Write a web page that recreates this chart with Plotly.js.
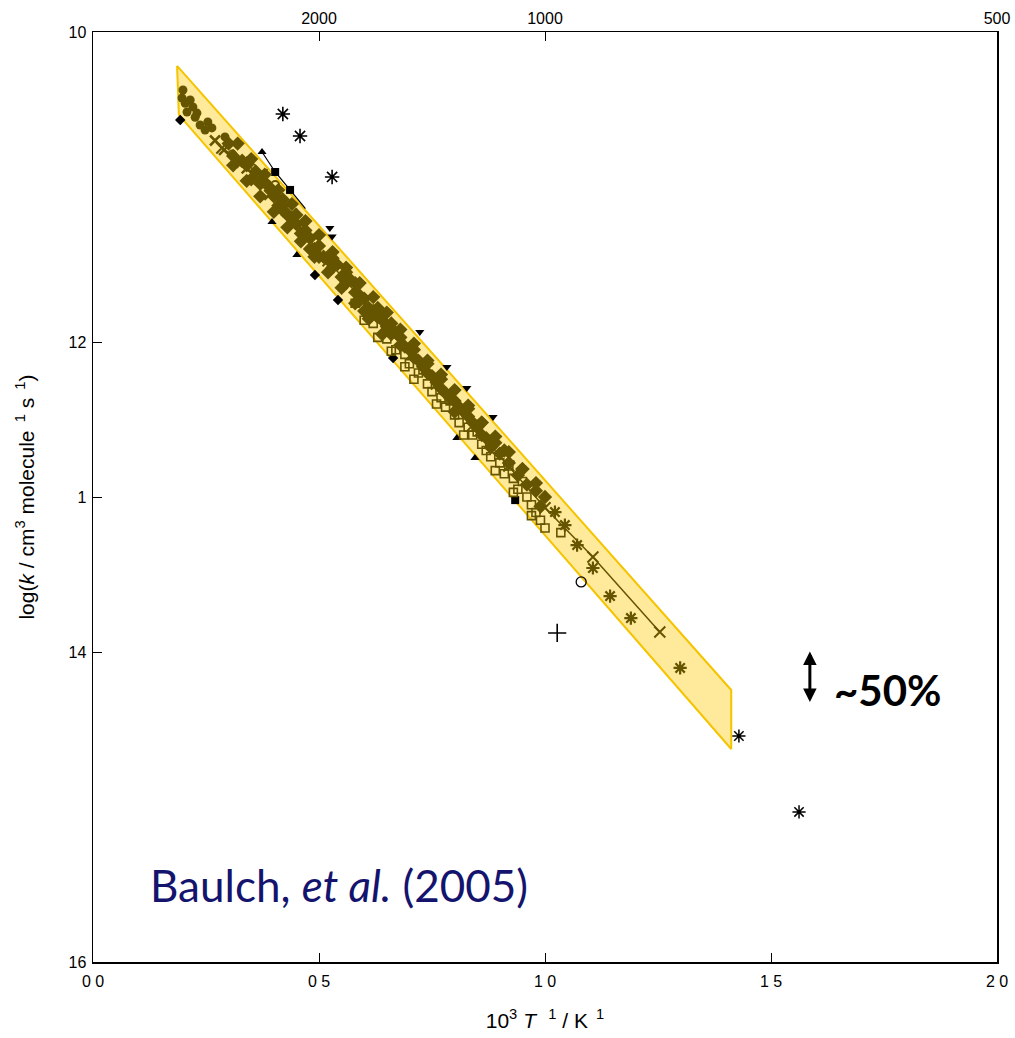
<!DOCTYPE html>
<html><head><meta charset="utf-8">
<script src="https://cdn.plot.ly/plotly-3.0.1.min.js"></script>
<style>body{margin:0;background:#fff}#plot{width:1015px;height:1038px}</style>
</head><body><div id="plot"></div>
<script>
// Uncertainty band (~50%)
const bandX = [0.186, 1.412, 1.412, 0.190, 0.186];
const bandY = [-10.219, -14.245, -14.626, -10.535, -10.219];

// Olive filled circles (high-T shock tube cluster)
const circX = [0.199,0.197,0.215,0.221,0.208,0.230,0.237,0.254,0.248,0.263,0.292,0.204,0.226];
const circY = [-10.374,-10.426,-10.439,-10.484,-10.516,-10.523,-10.600,-10.581,-10.632,-10.619,-10.677,-10.46,-10.55];

// Olive filled diamonds (dense data)
const diaX = [0.30,0.31,0.33,0.34,0.36,0.37,0.38,0.40,0.41,0.42,0.43,0.44,0.45,0.46,0.47,0.48,0.49,0.50,0.51,0.52,0.53,0.54,0.55,0.56,0.57,0.58,0.59,0.60,0.61,0.62,0.63,0.64,0.65,0.66,0.67,0.68,0.69,0.70,0.71,0.72,0.73,0.74,0.75,0.76,0.77,0.78,0.79,0.80,0.81,0.82,0.83,0.84,0.85,0.86,0.87,0.88,0.90,0.92,0.94,0.96,0.98,1.00,
  0.35,0.39,0.42,0.45,0.48,0.50,0.53,0.56,0.58,0.60,0.63,0.66,0.68,0.71,0.74,0.77,0.80,0.83,0.86,0.89,0.91,0.95,0.99,
  0.32,0.35,0.38,0.41,0.44,0.47,0.50,0.53,0.56,0.59,0.62,0.65,0.68,0.71,0.74,0.77,0.80,0.83,0.86,0.89,0.92,0.95,0.98,
  0.31,0.34,0.37,0.40,0.43,0.46,0.49,0.52,0.55,0.58,0.61,0.64];
const diaY = [-10.72,-10.80,-10.83,-10.86,-10.90,-10.98,-10.97,-11.06,-11.12,-11.08,-11.18,-11.20,-11.24,-11.30,-11.28,-11.33,-11.40,-11.38,-11.45,-11.47,-11.52,-11.50,-11.58,-11.62,-11.60,-11.68,-11.70,-11.72,-11.78,-11.80,-11.84,-11.86,-11.90,-11.95,-11.94,-12.02,-12.03,-12.05,-12.10,-12.12,-12.16,-12.20,-12.22,-12.26,-12.30,-12.33,-12.36,-12.38,-12.42,-12.45,-12.48,-12.52,-12.55,-12.60,-12.62,-12.68,-12.72,-12.78,-12.86,-12.92,-12.96,-13.00,
  -10.95,-11.00,-11.15,-11.18,-11.40,-11.45,-11.46,-11.55,-11.62,-11.80,-11.78,-11.88,-11.97,-12.05,-12.14,-12.24,-12.45,-12.43,-12.52,-12.65,-12.70,-12.82,-13.06,
  -10.72,-10.82,-10.92,-11.02,-11.11,-11.22,-11.31,-11.42,-11.52,-11.62,-11.71,-11.81,-11.92,-12.01,-12.12,-12.21,-12.31,-12.41,-12.52,-12.61,-12.71,-12.82,-12.91,
  -10.86,-10.96,-11.06,-11.16,-11.26,-11.35,-11.45,-11.55,-11.65,-11.75,-11.85,-11.95];

// Olive open squares
const sqX = [0.58,0.62,0.65,0.67,0.70,0.72,0.74,0.75,0.77,0.78,0.80,0.81,0.83,0.84,0.86,0.87,0.88,0.90,0.91,0.93,0.94,0.95,0.96,0.97,0.98,0.99,1.00,0.92,0.85,0.79,0.73,0.69,1.035,
  0.60,0.63,0.66,0.69,0.71,0.76,0.82,0.89,0.93,0.97];
const sqY = [-11.75,-11.88,-11.98,-12.05,-12.14,-12.20,-12.27,-12.32,-12.36,-12.42,-12.47,-12.52,-12.55,-12.60,-12.66,-12.70,-12.74,-12.78,-12.85,-12.88,-12.95,-12.90,-13.00,-13.05,-13.10,-13.15,-13.20,-12.80,-12.58,-12.38,-12.18,-12.08,-13.23,
  -11.86,-11.97,-12.06,-12.16,-12.24,-12.40,-12.60,-12.83,-12.97,-13.12];

// Olive crosses (upper trail)
const crX = [0.27,0.29,0.32,0.34,0.37,0.39,0.42,0.44,0.46,0.47];
const crY = [-10.70,-10.76,-10.84,-10.88,-10.95,-11.05,-11.10,-11.17,-11.24,-11.33];

// Olive open circles (upper trail)
const ocX = [0.308,0.352,0.403];
const ocY = [-10.79,-10.877,-10.987];

// Olive line with x markers
const lineX = [0.285,0.330,0.374,0.44,0.52,0.60,0.68,0.76,0.84,0.92,1.00,1.106,1.254];
const lineY = [-10.748,-10.84,-10.92,-11.21,-11.476,-11.741,-12.007,-12.272,-12.538,-12.80,-13.069,-13.387,-13.871];

// Olive asterisks (low-T)
const astX = [1.022,1.044,1.071,1.106,1.144,1.190,1.299];
const astY = [-13.097,-13.181,-13.310,-13.458,-13.639,-13.781,-14.103];

// Black markers
const bDiaX = [0.193,0.491,0.542,0.664];
const bDiaY = [-10.568,-11.568,-11.729,-12.103];
const bTriUpX = [0.374,0.396,0.451,0.805,0.845];
const bTriUpY = [-10.774,-11.226,-11.439,-12.619,-12.748];
const bSqX = [0.403,0.436,0.934];
const bSqY = [-10.903,-11.019,-13.02];
const bTriDnX = [0.524,0.529,0.723,0.783,0.827,0.885];
const bTriDnY = [-11.265,-11.32,-11.935,-12.161,-12.297,-12.484];
const bLineX = [0.374,0.403,0.436,0.47];
const bLineY = [-10.774,-10.903,-11.019,-11.14];
const bAstX = [0.420,0.458,0.529];
const bAstY = [-10.529,-10.671,-10.935];
const bPlusX = [1.027];
const bPlusY = [-13.877];
const bCircX = [1.080];
const bCircY = [-13.548];
const bStarX = [1.429,1.562];
const bStarY = [-14.542,-15.032];

// Axis ticks
const xTickVals = [0,0.5,1.0,1.5,2.0];
const xTickText = ['0 0','0 5','1 0','1 5','2 0'];
const topTickVals = [0.5,1.0,2.0];
const topTickText = ['2000','1000','500'];
const yTickVals = [-10,-12,-13,-14,-16];
const yTickText = ['10','12','1','14','16'];

const olive = '#665500';
const traces = [
  {x:bandX,y:bandY,mode:'lines',fill:'toself',fillcolor:'rgba(255,226,120,0.75)',line:{color:'#F5C400',width:2},hoverinfo:'skip'},
  {x:bLineX,y:bLineY,mode:'lines',line:{color:'#000',width:1.2}},
  {x:bDiaX,y:bDiaY,mode:'markers',marker:{symbol:'diamond',size:8,color:'#000'}},
  {x:bTriUpX,y:bTriUpY,mode:'markers',marker:{symbol:'triangle-up',size:8,color:'#000'}},
  {x:bSqX,y:bSqY,mode:'markers',marker:{symbol:'square',size:8,color:'#000'}},
  {x:bTriDnX,y:bTriDnY,mode:'markers',marker:{symbol:'triangle-down',size:8,color:'#000'}},
  {x:sqX,y:sqY,mode:'markers',marker:{symbol:'square-open',size:8,color:olive,line:{width:1.6,color:olive}}},
  {x:diaX,y:diaY,mode:'markers',marker:{symbol:'diamond',size:11,color:olive}},
  {x:crX,y:crY,mode:'markers',marker:{symbol:'x-thin-open',size:10,color:olive,line:{width:2.5,color:olive}}},
  {x:circX,y:circY,mode:'markers',marker:{symbol:'circle',size:9,color:olive}},
  {x:ocX,y:ocY,mode:'markers',marker:{symbol:'circle-open',size:8,color:olive,line:{width:1.8,color:olive}}},
  {x:lineX,y:lineY,mode:'lines+markers',line:{color:olive,width:1.5},marker:{symbol:'x-thin-open',size:11,color:olive,line:{width:2,color:olive}}},
  {x:astX,y:astY,mode:'markers',marker:{symbol:'asterisk-open',size:11,color:olive,line:{width:2.2,color:olive}}},
  {x:bAstX,y:bAstY,mode:'markers',marker:{symbol:'asterisk-open',size:12,color:'#000',line:{width:1.6,color:'#000'}}},
  {x:bPlusX,y:bPlusY,mode:'markers',marker:{symbol:'cross-thin-open',size:13,color:'#000',line:{width:1.6,color:'#000'}}},
  {x:bCircX,y:bCircY,mode:'markers',marker:{symbol:'circle-open',size:10,color:'#000',line:{width:1.3,color:'#000'}}},
  {x:bStarX,y:bStarY,mode:'markers',marker:{symbol:'asterisk-open',size:11,color:'#000',line:{width:1.5,color:'#000'}}},
  {x:[null],y:[null],xaxis:'x2',mode:'markers',showlegend:false}
];

const tickFont = {family:'Liberation Sans, Arial, sans-serif',size:16,color:'#000'};
const titleFont = {family:'Liberation Sans, Arial, sans-serif',size:21,color:'#000'};
const layout = {
  width:1015,height:1038,
  margin:{l:93,r:18,t:32,b:76},
  paper_bgcolor:'#fff',plot_bgcolor:'#fff',
  showlegend:false,
  xaxis:{range:[0,2],tickvals:xTickVals,ticktext:xTickText,ticks:'inside',ticklen:9,tickcolor:'#000',
    showline:true,linecolor:'#000',linewidth:1.5,showgrid:false,zeroline:false,tickfont:tickFont,ticklabelstandoff:4,
    title:{text:'10<sup>3</sup> <i>T</i><sup>   1</sup> / K<sup>  1</sup>',font:titleFont,standoff:24}},
  xaxis2:{range:[0,2],overlaying:'x',side:'top',tickvals:topTickVals,ticktext:topTickText,ticks:'inside',ticklen:9,tickcolor:'#000',
    showline:true,linecolor:'#000',linewidth:1.5,showgrid:false,zeroline:false,tickfont:tickFont},
  yaxis:{range:[-16,-10],tickvals:yTickVals,ticktext:yTickText,ticks:'inside',ticklen:9,tickcolor:'#000',
    showline:true,linecolor:'#000',linewidth:1.5,mirror:true,showgrid:false,zeroline:false,tickfont:tickFont,ticklabelstandoff:2,
    title:{text:'log(<i>k</i> / cm<sup>3</sup> molecule<sup>  1</sup> s<sup>  1</sup>)',font:titleFont,standoff:28}},
  annotations:[
    {xref:'paper',yref:'paper',x:0.0608,y:0.083,xanchor:'left',yanchor:'middle',showarrow:false,
     text:'Baulch, <i>et al.</i> (2005)',font:{family:'Lato, Noto Sans, sans-serif',size:44,color:'#14146E'}},
    {xref:'paper',yref:'paper',x:0.818,y:0.2925,xanchor:'left',yanchor:'middle',showarrow:false,
     text:'<b>~50%</b>',font:{family:'Lato, Noto Sans, sans-serif',size:42,color:'#000'}},
    {xref:'paper',yref:'paper',x:0.793,y:0.2796,ax:0,ay:-52,axref:'pixel',ayref:'pixel',showarrow:true,
     arrowhead:2,startarrowhead:2,arrowside:'end+start',arrowwidth:3,arrowsize:0.9,startarrowsize:0.9,arrowcolor:'#000',text:''}
  ]
};
Plotly.newPlot('plot',traces,layout,{displayModeBar:false,staticPlot:true});
</script></body></html>
